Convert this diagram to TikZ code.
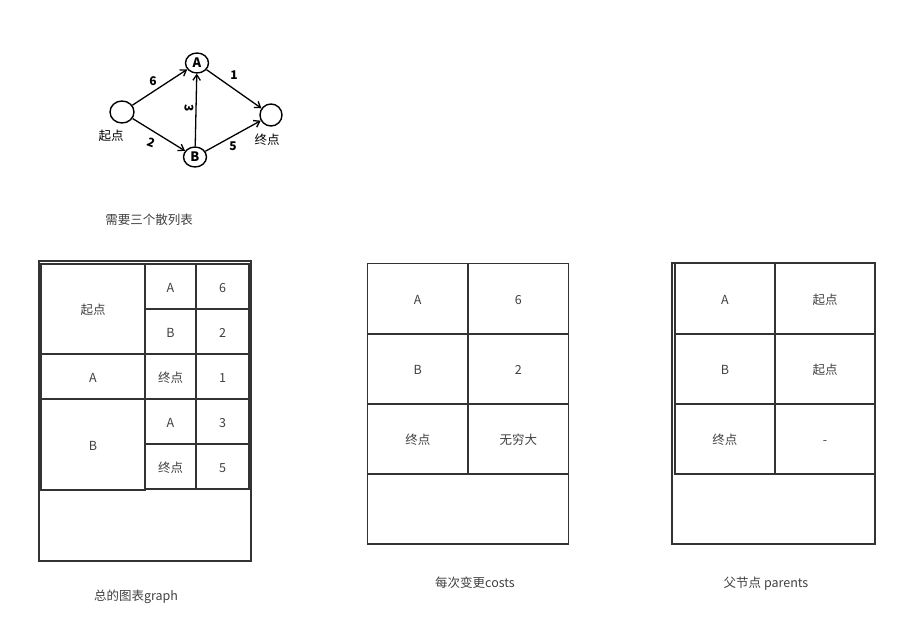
\documentclass[tikz,border=0pt]{standalone}
\usepackage{fontspec}
\setmainfont{Noto Sans CJK SC}
\usetikzlibrary{arrows.meta,shapes.geometric}
\definecolor{ln}{HTML}{333333}
\definecolor{tx}{HTML}{404040}
\begin{document}
\begin{tikzpicture}[x=1pt,y=-1pt,
  cell/.style={draw=ln,line width=1.9pt,minimum width=#1,inner sep=0pt,text=tx,font=\fontsize{12.5}{14}\selectfont,text height=11.5pt,text depth=0pt},
  outerbox/.style={draw=ln,line width=2pt,inner sep=0pt},
  captxt/.style={text=tx,font=\fontsize{12.5}{14}\selectfont,inner sep=0pt,text height=11.5pt,text depth=0pt},
  vtx/.style={ellipse,draw=black,line width=1.4pt,inner sep=0pt,font=\fontsize{13}{13}\selectfont\bfseries},
  arr/.style={draw=black,line width=1.3pt,-{Straight Barb[length=5.5pt,width=7.5pt]}},
  wt/.style={font=\fontsize{12}{12}\selectfont\bfseries,inner sep=0pt},
  hand/.style={font=\fontsize{12.5}{12.5}\selectfont,inner sep=0pt}]
\useasboundingbox (0,0) rectangle (900,639);
% sketch
\node[vtx,minimum width=24,minimum height=22] (S) at (122,112) {};
\node[vtx,minimum width=23,minimum height=20] (A) at (197,63) {A};
\node[vtx,minimum width=23,minimum height=20] (B) at (195,157) {B};
\node[vtx,minimum width=22,minimum height=22] (E) at (271,115) {};
\draw[arr] (S) -- (A);
\draw[arr] (A) -- (E);
\draw[arr] (S) -- (B);
\draw[arr] (B) -- (E);
\draw[arr] (B) -- (A);
\node[wt] (w6) at (153,81) {6};
\node[wt] (w1) at (234,75) {1};
\node[wt,rotate=-90] (w3) at (189,108) {3};
\node[wt,rotate=-20] (w2) at (151,143) {2};
\node[wt] (w5) at (233,146) {5};
\node[hand] (ls) at (111,136) {起点};
\node[hand] (le) at (267,140) {终点};
\node[captxt] (t0) at (149,219) {需要三个散列表};
% table 1: graph
\node[outerbox,minimum width=212,minimum height=300] (gbox) at (144.6,410.8) {};
\node[cell=104,minimum height=90] (g1) at (93,309) {起点};
\node[cell=104,minimum height=45] (g2) at (93,376.5) {A};
\node[cell=104,minimum height=91] (g3) at (93,444.5) {B};
\node[cell=51,minimum height=45] (g11) at (170.5,286.5) {A};
\node[cell=53,minimum height=45] (g12) at (222.5,286.5) {6};
\node[cell=51,minimum height=45] (g21) at (170.5,331.5) {B};
\node[cell=53,minimum height=45] (g22) at (222.5,331.5) {2};
\node[cell=51,minimum height=45] (g31) at (170.5,376.5) {终点};
\node[cell=53,minimum height=45] (g32) at (222.5,376.5) {1};
\node[cell=51,minimum height=45] (g41) at (170.5,421.5) {A};
\node[cell=53,minimum height=45] (g42) at (222.5,421.5) {3};
\node[cell=51,minimum height=45] (g51) at (170.5,466.5) {终点};
\node[cell=53,minimum height=45] (g52) at (222.5,466.5) {5};
\node[captxt] (t1) at (136,595) {总的图表graph};
% table 2: costs
\node[cell=100.5,minimum height=70.5] (c11) at (417.75,298.75) {A};
\node[cell=100.5,minimum height=70.5] (c12) at (518.25,298.75) {6};
\node[cell=100.5,minimum height=70] (c21) at (417.75,369) {B};
\node[cell=100.5,minimum height=70] (c22) at (518.25,369) {2};
\node[cell=100.5,minimum height=70] (c31) at (417.75,438.85) {终点};
\node[cell=100.5,minimum height=70] (c32) at (518.25,438.85) {无穷大};
\node[cell=201,minimum height=70] (c4) at (468,508.7) {};
\node[captxt] (t2) at (475,582) {每次变更costs};
% table 3: parents
\node[outerbox,minimum width=203.3,minimum height=280.2] (pbox) at (773.35,403.6) {};
\node[cell=100.3,minimum height=70.5] (p11) at (724.85,298.75) {A};
\node[cell=100,minimum height=70.5] (p12) at (825,298.75) {起点};
\node[cell=100.3,minimum height=70] (p21) at (724.85,369) {B};
\node[cell=100,minimum height=70] (p22) at (825,369) {起点};
\node[cell=100.3,minimum height=70] (p31) at (724.85,438.85) {终点};
\node[cell=100,minimum height=70] (p32) at (825,438.85) {-};
\node[captxt] (t3) at (766,582) {父节点 parents};
\end{tikzpicture}
\end{document}
